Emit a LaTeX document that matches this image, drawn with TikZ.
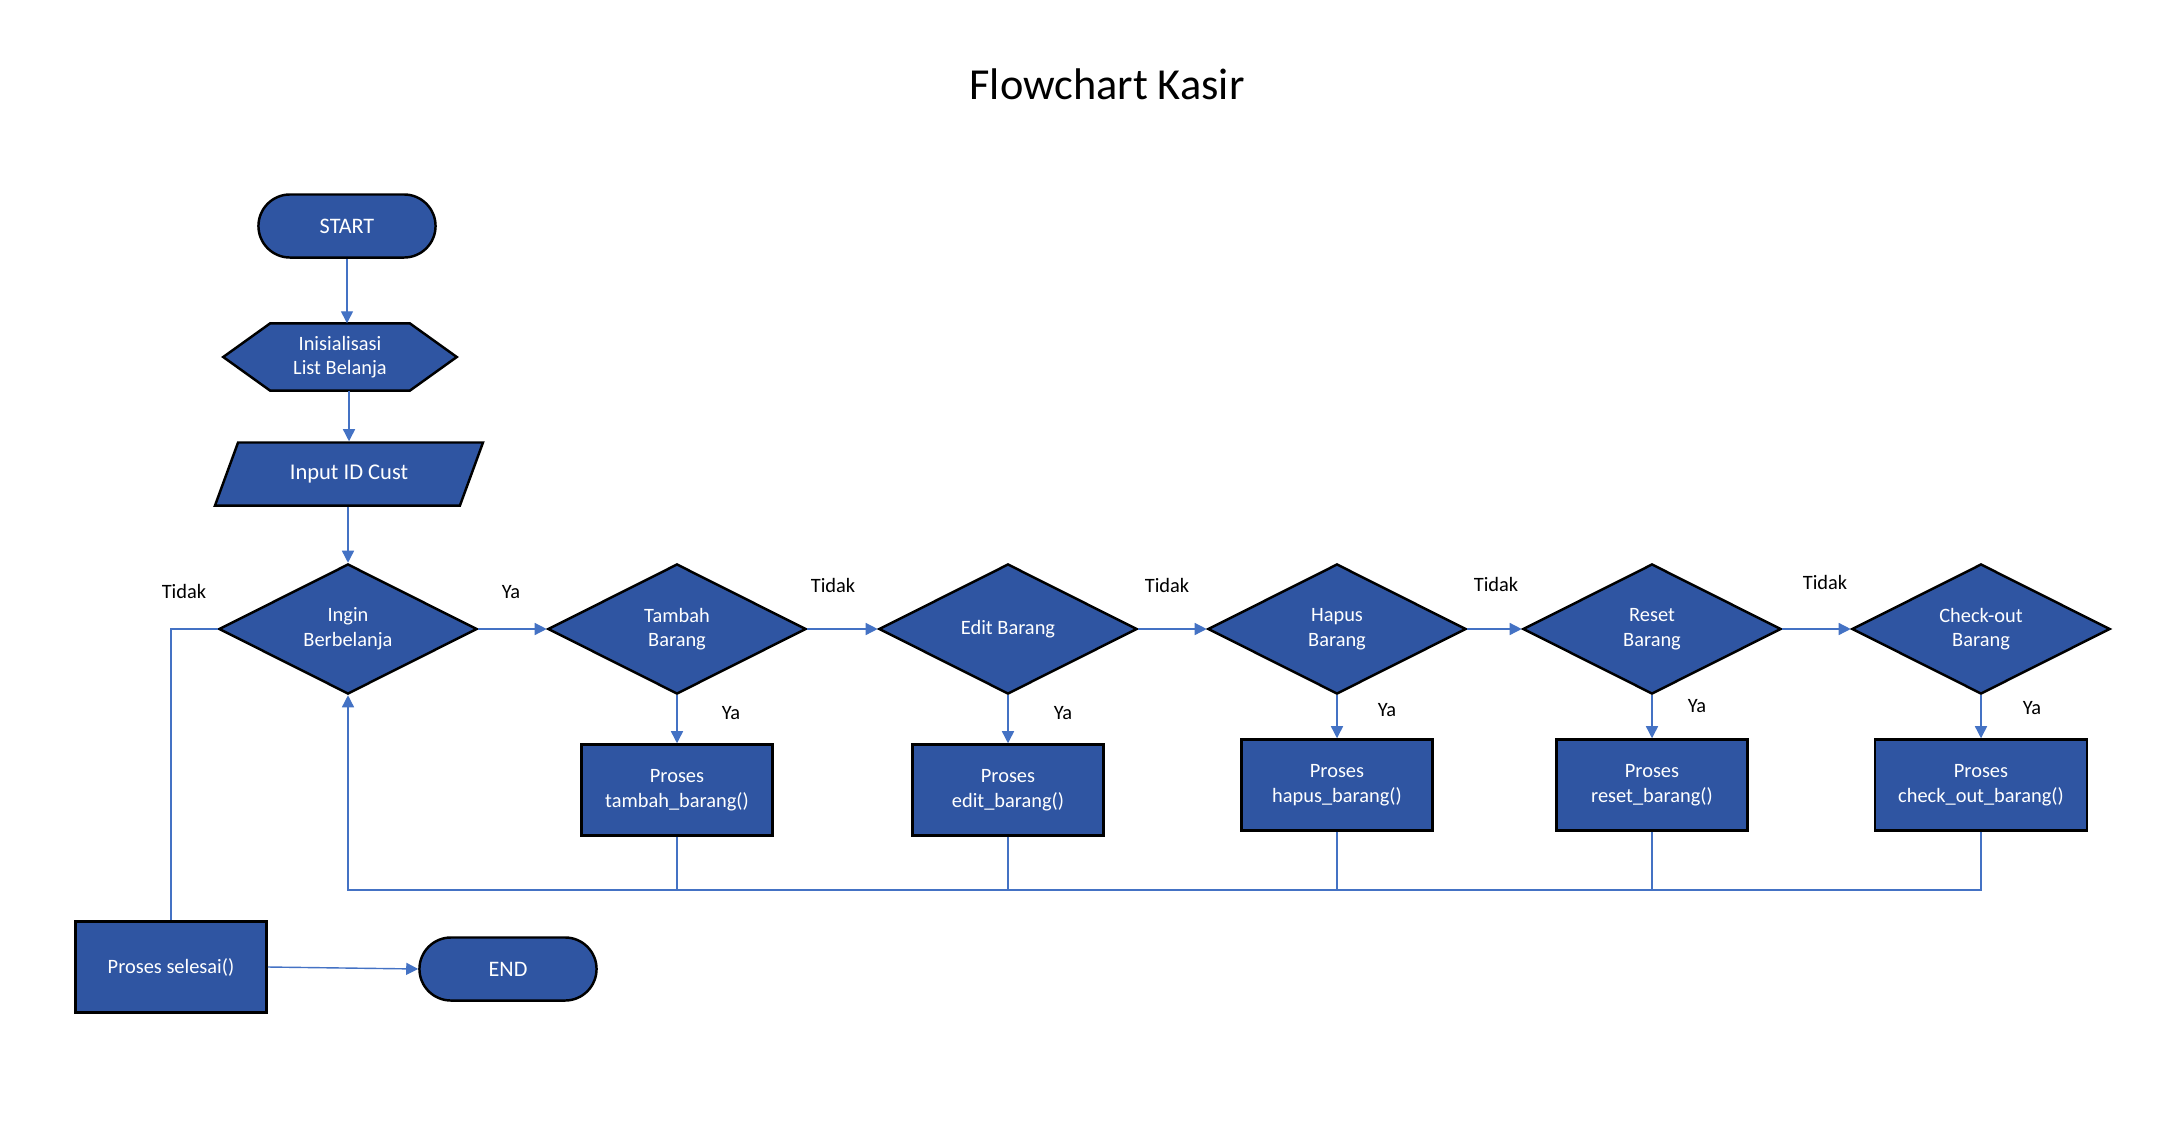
\documentclass[tikz,border=0pt]{standalone}
\usepackage{fontspec}
\setmainfont{Carlito}
\usetikzlibrary{shapes.geometric,arrows.meta,backgrounds}
\definecolor{boxfill}{HTML}{2F55A2}
\definecolor{lcol}{HTML}{4472C4}
\tikzstyle{blk}=[draw=black, fill=boxfill, line width=0.7pt, text=white, inner sep=0pt, align=center, font=\fontsize{5.8}{7}\selectfont]
\tikzstyle{decision}=[blk, diamond, aspect=2, minimum width=2.58cm, minimum height=1.30cm]
\tikzstyle{process}=[blk, rectangle, minimum width=1.91cm, minimum height=0.91cm]
\tikzstyle{term}=[blk, rectangle, rounded corners=0.315cm, minimum width=1.77cm, minimum height=0.63cm, font=\fontsize{6.3}{7.5}\selectfont]
\tikzstyle{io}=[blk, trapezium, trapezium left angle=56, trapezium right angle=124, trapezium stretches=true, minimum width=2.68cm, minimum height=0.63cm, font=\fontsize{6.4}{7.6}\selectfont]
\tikzstyle{hexa}=[rectangle, inner sep=0pt, minimum width=2.32cm, minimum height=0.66cm, align=center, text=white, font=\fontsize{5.8}{7}\selectfont]
\tikzstyle{hexline}=[draw=black, fill=boxfill, line width=0.7pt]
\tikzstyle{link}=[lcol, line width=0.4pt]
\tikzstyle{flow}=[link, -{Triangle[length=0.12cm, width=0.12cm]}]
\tikzstyle{lbl}=[font=\fontsize{5.8}{7}\selectfont]

\begin{document}
\begin{tikzpicture}[x=0.01cm, y=-0.01cm]
			\useasboundingbox (0,0) rectangle (2184,1133);

			\node[font=\fontsize{12.6}{15}\selectfont] (title) at (1107, 84) {Flowchart Kasir};

			\node[term] (start) at (347, 226) {START};
			\node[hexa] (init) at (340, 357) {Inisialisasi\\List Belanja};
			\begin{scope}[on background layer]
				\filldraw[hexline] ([xshift=0.47cm]init.north west) -- ([xshift=-0.47cm]init.north east) -- (init.east)
					-- ([xshift=-0.47cm]init.south east) -- ([xshift=0.47cm]init.south west) -- (init.west) -- cycle;
			\end{scope}
			\node[io] (input) at (349, 474) {Input ID Cust};

			\node[decision] (ingin) at (348, 629) {Ingin\\Berbelanja};
			\node[decision] (tambah) at (677, 629) {Tambah\\Barang};
			\node[decision] (edit) at (1008, 629) {Edit Barang};
			\node[decision] (hapus) at (1337, 629) {Hapus\\Barang};
			\node[decision] (reset) at (1652, 629) {Reset\\Barang};
			\node[decision] (check) at (1981, 629) {Check-out\\Barang};

			\node[process] (ptambah) at (677, 790) {Proses\\tambah\_barang()};
			\node[process] (pedit) at (1008, 790) {Proses\\edit\_barang()};
			\node[process] (phapus) at (1337, 785) {Proses\\hapus\_barang()};
			\node[process] (preset) at (1652, 785) {Proses\\reset\_barang()};
			\node[process, minimum width=2.12cm] (pcheck) at (1981, 785) {Proses\\check\_out\_barang()};

			\node[process] (selesai) at (171, 967) {Proses selesai()};
			\node[term] (end) at (508, 969) {END};
			\coordinate (back) at (348, 890);

			% Main column
			\draw[flow] (start.south) -- (start.south |- init.north);
			\draw[flow] (init.south -| input.north) -- (input.north);
			\draw[flow] (input.south -| ingin.north) -- (ingin.north);
			% Horizontal
			\draw[flow] (ingin.east) -- (tambah.west);
			\draw[flow] (tambah.east) -- (edit.west);
			\draw[flow] (edit.east) -- (hapus.west);
			\draw[flow] (hapus.east) -- (reset.west);
			\draw[flow] (reset.east) -- (check.west);
			% Down to processes
			\draw[flow] (tambah.south) -- (ptambah.north);
			\draw[flow] (edit.south) -- (pedit.north);
			\draw[flow] (hapus.south) -- (phapus.north);
			\draw[flow] (reset.south) -- (preset.north);
			\draw[flow] (check.south) -- (pcheck.north);
			% Back to the start of the loop
			\draw[link] (ptambah.south) -- (ptambah.south |- back);
			\draw[link] (pedit.south) -- (pedit.south |- back);
			\draw[link] (phapus.south) -- (phapus.south |- back);
			\draw[link] (preset.south) -- (preset.south |- back);
			\draw[flow] (pcheck.south) |- (back) -- (ingin.south);
			% Finish
			\draw[link] (ingin.west) -| (selesai.north);
			\draw[flow] (selesai.east) -- (end.west);

			\node[lbl] (t0) at (184, 591) {Tidak};
			\node[lbl] (y0) at (511, 592) {Ya};
			\node[lbl] (t1) at (833, 585) {Tidak};
			\node[lbl] (t2) at (1167, 585) {Tidak};
			\node[lbl] (t3) at (1496, 584) {Tidak};
			\node[lbl] (t4) at (1825, 582) {Tidak};
			\node[lbl] (y1) at (731, 713) {Ya};
			\node[lbl] (y2) at (1063, 713) {Ya};
			\node[lbl] (y3) at (1387, 710) {Ya};
			\node[lbl] (y4) at (1697, 706) {Ya};
			\node[lbl] (y5) at (2032, 708) {Ya};
		\end{tikzpicture}
\end{document}
